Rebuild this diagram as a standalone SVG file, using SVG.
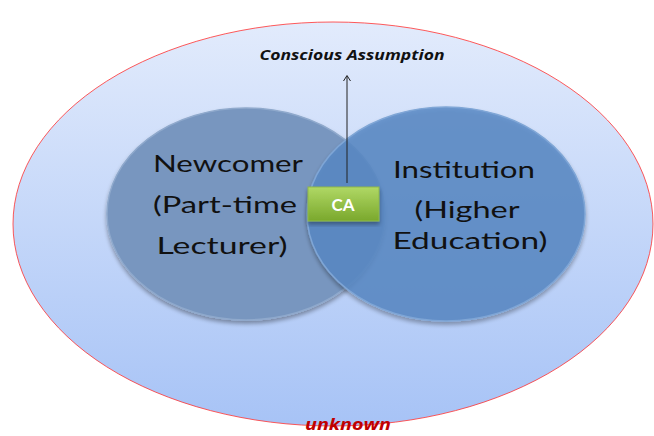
<svg xmlns="http://www.w3.org/2000/svg" width="654" height="436" viewBox="0 0 654 436">
<defs>
<linearGradient id="bg" x1="0" y1="0" x2="0" y2="1">
<stop offset="0" stop-color="#e2ebfc"/>
<stop offset="1" stop-color="#a7c3f6"/>
</linearGradient>
<linearGradient id="ca" x1="0" y1="0" x2="0" y2="1">
<stop offset="0" stop-color="#b0d865"/>
<stop offset="1" stop-color="#7aa82c"/>
</linearGradient>
<filter id="sh" x="-10%" y="-10%" width="120%" height="125%">
<feGaussianBlur in="SourceAlpha" stdDeviation="2"/>
<feOffset dx="0" dy="3" result="b"/>
<feComponentTransfer><feFuncA type="linear" slope="0.35"/></feComponentTransfer>
<feMerge><feMergeNode/><feMergeNode in="SourceGraphic"/></feMerge>
</filter>
</defs>
<style>
.lbl{font-family:Lato,"Open Sans","Liberation Sans",sans-serif;font-size:24px;fill:#111;text-anchor:middle}
</style>
<rect width="654" height="436" fill="#ffffff"/>
<g id="unknown">
<ellipse cx="333" cy="224" rx="320" ry="202" fill="url(#bg)" stroke="#ff3030" stroke-width="0.8"/>
</g>
<g id="newcomer" filter="url(#sh)">
<ellipse cx="246" cy="214" rx="139" ry="106" fill="#7896bf" stroke="#8fa9cc" stroke-width="1.5"/>
</g>
<g id="institution" filter="url(#sh)">
<ellipse cx="446" cy="214" rx="139" ry="107" fill="#5a8ac6" fill-opacity="0.85" stroke="#7fa6d6" stroke-width="1.5"/>
</g>
<g id="labels">
<text class="lbl" x="228" y="172" textLength="150" lengthAdjust="spacingAndGlyphs">Newcomer</text>
<text class="lbl" x="225" y="213" textLength="144" lengthAdjust="spacingAndGlyphs">(Part-time</text>
<text class="lbl" x="222" y="254" textLength="131" lengthAdjust="spacingAndGlyphs">Lecturer)</text>
<text class="lbl" x="464" y="178" textLength="142" lengthAdjust="spacingAndGlyphs">Institution</text>
<text class="lbl" x="467" y="218" textLength="105" lengthAdjust="spacingAndGlyphs">(Higher</text>
<text class="lbl" x="470" y="249" textLength="155" lengthAdjust="spacingAndGlyphs">Education)</text>
</g>
<g id="connectors" fill="none" stroke="#222" stroke-width="1">
<line x1="347" y1="183" x2="347" y2="76"/>
<path d="M343.5,81 L347,75.5 L350.5,81"/>
</g>
<g id="ca-box">
<rect x="308" y="187" width="71" height="34" fill="url(#ca)" stroke="#8fb84a" stroke-width="1" filter="url(#sh)"/>
<text x="343" y="211" font-family="Lato,'Open Sans','Liberation Sans',sans-serif" font-size="17" font-weight="bold" fill="#ffffff" text-anchor="middle">CA</text>
</g>
<g id="conscious">
<text x="352" y="60" font-family="'Open Sans',Lato,'Liberation Sans',sans-serif" font-size="14" font-weight="bold" font-style="italic" fill="#111" text-anchor="middle" textLength="185" lengthAdjust="spacingAndGlyphs">Conscious Assumption</text>
</g>
<g id="unknown-label">
<text x="348" y="430" font-family="'Open Sans',Lato,'Liberation Sans',sans-serif" font-size="16" font-weight="bold" font-style="italic" fill="#c00000" text-anchor="middle" textLength="86" lengthAdjust="spacingAndGlyphs">unknown</text>
</g>
</svg>
